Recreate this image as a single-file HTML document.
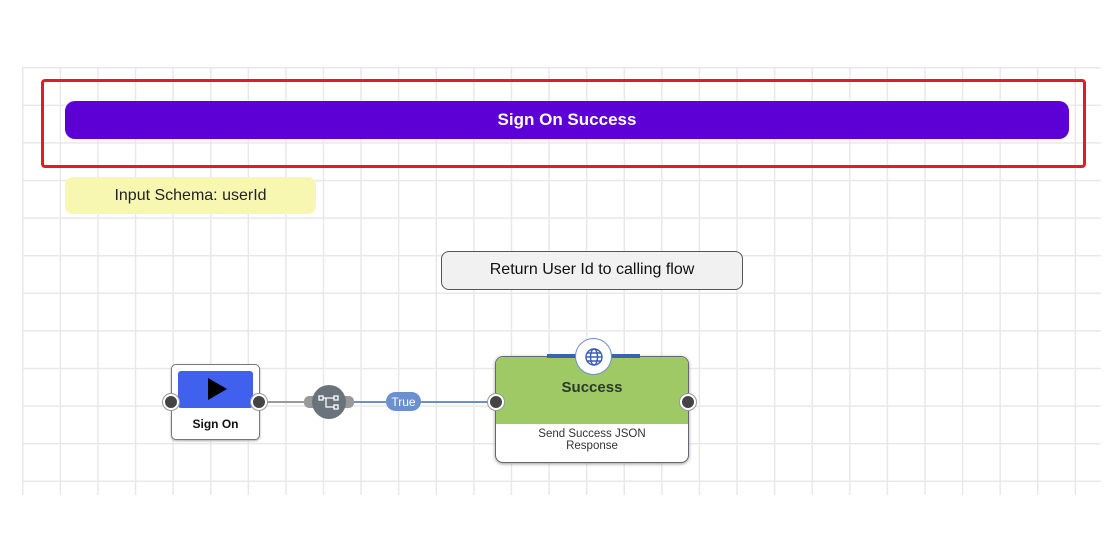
<!DOCTYPE html>
<html><head><meta charset="utf-8"><style>
body{margin:0;width:1120px;height:560px;background:#fff;position:relative;overflow:hidden;font-family:"Liberation Sans",Arial,sans-serif}
.a{position:absolute;box-sizing:border-box}
.grid{left:22px;top:67px;width:1079px;height:428px;
background-image:linear-gradient(to right,#e8e8e8 1.5px,transparent 1.5px),linear-gradient(to bottom,#e8e8e8 1.5px,transparent 1.5px);
background-size:37.6px 37.6px}
.port{position:absolute;width:16px;height:16px;border-radius:50%;background:#444;border:2px solid #fff;box-shadow:0 0 0 1px #999;box-sizing:border-box}
</style></head><body>
<div class="a grid"></div>
<div class="a" style="left:41px;top:79px;width:1045px;height:89px;border:3.5px solid #e01b2a;border-radius:4px"></div>
<div class="a" style="left:65px;top:101px;width:1004px;height:38px;background:#5d00d5;border-radius:10px;color:#fff;font-weight:bold;font-size:17px;text-align:center;line-height:38px">Sign On Success</div>
<div class="a" style="left:65px;top:177px;width:251px;height:37px;background:#f7f7b2;border-radius:8px;color:#222;font-size:16px;text-align:center;line-height:37px">Input Schema: userId</div>
<div class="a" style="left:441px;top:251px;width:302px;height:39px;background:#f1f1f1;border:1.5px solid #555;border-radius:8px;color:#111;font-size:16px;text-align:center;line-height:36px">Return User Id to calling flow</div>

<svg class="a" style="left:0;top:0" width="1120" height="560">
<line x1="262" y1="402" x2="318" y2="402" stroke="#999" stroke-width="2"/>
<line x1="340" y1="402" x2="495" y2="402" stroke="#6b8fcf" stroke-width="2"/>
<rect x="304" y="396" width="50" height="12" rx="5" fill="#999"/>
<circle cx="329" cy="402" r="17" fill="#6a737b"/>
<g stroke="#fff" stroke-width="1.3" fill="none">
<rect x="319" y="396" width="4" height="4"/><rect x="334" y="396" width="4" height="4"/><rect x="334" y="405" width="4" height="4"/>
<path d="M323 398H334M326 398V407H334"/></g>
<rect x="386" y="392" width="35" height="19" rx="9.5" fill="#6b8fcf"/>
<text x="403.5" y="406" font-size="12" fill="#fff" text-anchor="middle" font-family="Liberation Sans,sans-serif">True</text>
</svg>

<div class="a" style="left:171px;top:364px;width:89px;height:76px;background:#fff;border:1.5px solid #777;border-radius:5px;box-shadow:0 1px 2px #aaa"></div>
<div class="a" style="left:178px;top:371px;width:75px;height:37px;background:#4060ee;border-radius:3px"></div>
<div class="a" style="left:208px;top:378px;width:0;height:0;border-left:19px solid #000;border-top:11px solid transparent;border-bottom:11px solid transparent"></div>
<div class="a" style="left:171px;top:417px;width:89px;text-align:center;font-weight:bold;font-size:12px;color:#111">Sign On</div>
<div class="port" style="left:163px;top:394px"></div>
<div class="port" style="left:251px;top:394px"></div>

<div class="a" style="left:495px;top:356px;width:194px;height:107px;background:#fff;border:1.5px solid #667;border-radius:8px;overflow:hidden;box-shadow:0 1px 3px #999">
<div style="height:67px;background:#9ec965"></div>
<div style="position:absolute;left:0;top:22px;width:100%;text-align:center;font-weight:bold;font-size:15px;color:#2b3a2b">Success</div>
<div style="position:absolute;left:0;top:71px;width:100%;text-align:center;font-size:11.5px;line-height:12px;color:#333">Send Success JSON<br>Response</div>
</div>
<div class="a" style="left:547px;top:354px;width:93px;height:4px;background:#3a63b8"></div>
<div class="a" style="left:575px;top:338px;width:37px;height:37px;border-radius:50%;background:#fff;border:1.5px solid #6b8fcf"></div>
<svg class="a" style="left:584px;top:347px" width="20" height="20" viewBox="0 0 20 20"><g fill="none" stroke="#3a5bb8" stroke-width="1.4"><circle cx="10" cy="10" r="8"/><ellipse cx="10" cy="10" rx="3.5" ry="8"/><path d="M2 10H18M3.5 6H16.5M3.5 14H16.5"/></g></svg>
<div class="port" style="left:488px;top:394px"></div>
<div class="port" style="left:680px;top:394px"></div>
</body></html>
